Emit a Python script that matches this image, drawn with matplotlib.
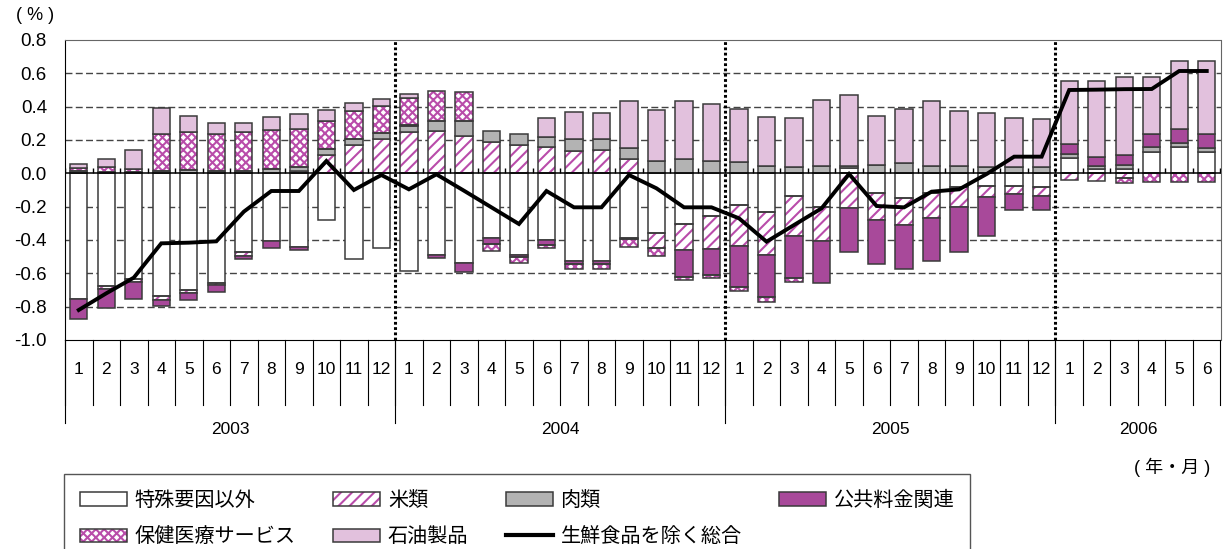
import numpy as np
import matplotlib
matplotlib.use('Agg')
import matplotlib.pyplot as plt
import matplotlib.transforms as mtransforms
from matplotlib.patches import Patch
from matplotlib.lines import Line2D

plt.rcParams['font.family'] = ['Liberation Sans', 'Noto Sans CJK JP', 'DejaVu Sans']
plt.rcParams['hatch.linewidth'] = 1.5
plt.rcParams['lines.scale_dashes'] = False

# ---------------- data ----------------
years = ['2003', '2004', '2005', '2006']
months_per_year = [12, 12, 12, 6]
month_labels = [str(m) for n in months_per_year for m in range(1, n + 1)]

toku = [-0.756, -0.676, -0.636, -0.736, -0.70, -0.66, -0.474, -0.404, -0.444, -0.28, -0.515, -0.446,
        -0.584, -0.492, -0.54, -0.39, -0.49, -0.40, -0.526, -0.526, -0.39, -0.36, -0.306, -0.254,
        -0.19, -0.234, -0.138, -0.20, 0.034, -0.12, -0.146, -0.12, -0.08, -0.074, -0.074, -0.084,
        0.09, 0.024, 0.028, 0.13, 0.16, 0.13]
kome = [0.0, -0.016, -0.016, -0.024, -0.02, -0.01, -0.02, 0.0, 0.016, 0.11, 0.17, 0.204,
        0.25, 0.256, 0.226, 0.188, 0.168, 0.16, 0.136, 0.14, 0.084, -0.09, -0.154, -0.20,
        -0.246, -0.256, -0.236, -0.204, -0.21, -0.16, -0.162, -0.146, -0.12, -0.066, -0.052, -0.05,
        -0.04, -0.045, -0.03, 0.0, 0.0, 0.0]
niku = [0.015, 0.01, 0.01, 0.016, 0.02, 0.014, 0.016, 0.024, 0.02, 0.036, 0.034, 0.036,
        0.035, 0.06, 0.09, 0.068, 0.068, 0.056, 0.068, 0.064, 0.066, 0.076, 0.084, 0.076,
        0.07, 0.044, 0.036, 0.044, 0.012, 0.052, 0.062, 0.044, 0.044, 0.04, 0.036, 0.036,
        0.026, 0.02, 0.02, 0.03, 0.02, 0.02]
kokyo = [-0.12, -0.118, -0.104, -0.036, -0.04, -0.042, -0.018, -0.046, -0.016, 0.0, 0.0, 0.0,
         0.005, -0.016, -0.054, -0.032, -0.015, -0.03, -0.02, -0.02, -0.005, 0.0, -0.16, -0.156,
         -0.248, -0.25, -0.256, -0.256, -0.26, -0.266, -0.268, -0.258, -0.27, -0.234, -0.094, -0.086,
         0.058, 0.056, 0.062, 0.076, 0.088, 0.088]
hoken = [0.015, 0.026, 0.014, 0.218, 0.228, 0.222, 0.23, 0.234, 0.232, 0.166, 0.172, 0.164,
         0.16, 0.18, 0.17, -0.044, -0.035, -0.02, -0.03, -0.03, -0.045, -0.044, -0.02, -0.02,
         -0.022, -0.03, -0.02, 0.0, 0.0, 0.0, 0.0, 0.0, 0.0, 0.0, 0.0, 0.0,
         0.0, 0.0, -0.03, -0.054, -0.054, -0.054]
sekiyu = [0.025, 0.048, 0.116, 0.156, 0.098, 0.068, 0.058, 0.078, 0.09, 0.066, 0.044, 0.04,
          0.025, 0.0, 0.0, 0.0, 0.0, 0.116, 0.162, 0.16, 0.284, 0.302, 0.35, 0.34,
          0.314, 0.296, 0.296, 0.394, 0.422, 0.292, 0.322, 0.39, 0.33, 0.324, 0.294, 0.29,
          0.382, 0.456, 0.466, 0.34, 0.406, 0.436]
core = [-0.82, -0.72, -0.626, -0.42, -0.416, -0.408, -0.23, -0.106, -0.106, 0.074, -0.10, -0.01,
        -0.096, -0.006, -0.104, -0.204, -0.304, -0.106, -0.204, -0.204, -0.01, -0.09, -0.204, -0.204,
        -0.27, -0.41, -0.31, -0.21, -0.004, -0.196, -0.204, -0.11, -0.096, -0.004, 0.10, 0.10,
        0.50, 0.502, 0.505, 0.506, 0.614, 0.614]

names = ['特殊要因以外', '米類', '肉類', '公共料金関連', '保健医療サービス', '石油製品']
line_name = '生鮮食品を除く総合'

# ---------------- style ----------------
EDGE = '#3a3a3a'
MAG = '#b94caa'
PURPLE = '#a8499a'
PINK = '#e2c1dd'
GRAY = '#b3b3b3'
styles = {
    '特殊要因以外': dict(fc='white', hatch=None),
    '米類': dict(fc='white', hatch='///'),
    '肉類': dict(fc=GRAY, hatch=None),
    '公共料金関連': dict(fc=PURPLE, hatch=None),
    '保健医療サービス': dict(fc='white', hatch='xxxx'),
    '石油製品': dict(fc=PINK, hatch=None),
}
series_vals = [toku, kome, niku, kokyo, hoken, sekiyu]

W, H = 1225, 549
fig = plt.figure(figsize=(W / 100, H / 100), dpi=100)
ax = fig.add_axes([65 / W, 1 - 340 / H, (1220.5 - 65) / W, 300 / H])

n = len(month_labels)
x = np.arange(n)
bw = 0.63
pos_b = np.zeros(n)
neg_b = np.zeros(n)
for name, vals in zip(names, series_vals):
    v = np.asarray(vals, dtype=float)
    st = styles[name]
    bottom = np.where(v >= 0, pos_b, neg_b)
    m = v != 0
    if st['hatch']:
        ax.bar(x[m], v[m], bw, bottom=bottom[m], color='white', edgecolor=MAG,
               hatch=st['hatch'], linewidth=0, zorder=2)
        ax.bar(x[m], v[m], bw, bottom=bottom[m], facecolor='none', edgecolor=EDGE,
               linewidth=1.1, zorder=2.1)
    else:
        ax.bar(x[m], v[m], bw, bottom=bottom[m], color=st['fc'], edgecolor=EDGE,
               linewidth=1.1, zorder=2.1)
    pos_b += np.where(v > 0, v, 0)
    neg_b += np.where(v < 0, v, 0)

ax.plot(x, core, color='black', lw=2.8, zorder=5, solid_joinstyle='miter')

ax.set_xlim(-0.5, n - 0.5)
ax.set_ylim(-1.0, 0.8)
yt = np.round(np.arange(-1.0, 0.81, 0.2), 1)
ax.set_yticks(yt)
ax.set_yticklabels(['0.0' if abs(t) < 1e-9 else f'{t:.1f}' for t in yt])
ax.tick_params(axis='y', length=0, pad=13, labelsize=13.5)
ax.set_xticks([])

for t in yt:
    if -1.0 < t < 0.8 and abs(t) > 1e-9:
        ax.axhline(t, color='#444444', lw=1, ls=(0, (5, 2.4)), zorder=1)
ax.axhline(0, color='black', lw=1.1, zorder=3)
# small category ticks on the zero line
ax.vlines(np.arange(n + 1) - 0.5, 0, 0.03, color='black', lw=1, zorder=3)

# year dividers
bounds = np.cumsum(months_per_year)[:-1] - 0.5
for b in bounds:
    ax.axvline(b, color='black', lw=2.2, ls=(0, (2, 1.8)), zorder=4)

for s in ['top', 'right']:
    ax.spines[s].set_color('#666666')
for s in ['left', 'bottom']:
    ax.spines[s].set_color('black')

# category table below
trans = mtransforms.blended_transform_factory(ax.transData, ax.transAxes)
for i in range(n + 1):
    ax.plot([i - 0.5, i - 0.5], [0, -65 / 300], transform=trans, color='black', lw=0.8, clip_on=False)
start = -0.5
for yl, cnt in zip(years, months_per_year):
    if start < n - 1:
        ax.plot([start, start], [0, -83 / 300], transform=trans, color='black', lw=0.8, clip_on=False)
    ax.text(start + cnt / 2, -90 / 300, yl, transform=trans, ha='center', va='center', fontsize=12.5)
    start += cnt
for i, lab in enumerate(month_labels):
    ax.text(i, -30 / 300, lab, transform=trans, ha='center', va='center', fontsize=12.5)

fig.text(35 / W, 1 - 16 / H, '( % )', ha='center', va='center', fontsize=13)
fig.text(1172 / W, 1 - 467 / H, '( 年・月 )', ha='center', va='center', fontsize=13)

# legend
def handle_for(name):
    st = styles[name]
    if st['hatch']:
        return (Patch(facecolor='white', edgecolor=MAG, hatch=st['hatch'], linewidth=0),
                Patch(facecolor='none', edgecolor=EDGE, linewidth=1.1))
    return Patch(facecolor=st['fc'], edgecolor=EDGE, linewidth=1.1)

order = ['特殊要因以外', '保健医療サービス', '米類', '石油製品', '肉類', line_name, '公共料金関連']
handles, labels = [], []
for nm in order:
    if nm == line_name:
        handles.append(Line2D([], [], color='black', lw=3))
    else:
        handles.append(handle_for(nm))
    labels.append(nm)

leg = fig.legend(handles, labels, ncol=4, loc='upper left',
                 bbox_to_anchor=(64 / W, 1 - 474 / H), bbox_transform=fig.transFigure,
                 frameon=True, fancybox=False, edgecolor='#555555', framealpha=1,
                 prop={'family': ['Noto Sans CJK JP'], 'size': 14.5},
                 handlelength=2.34, handleheight=0.62, handletextpad=0.38,
                 columnspacing=1.85, borderpad=0.8, labelspacing=0.75, borderaxespad=0)
leg.get_frame().set_linewidth(1)

fig.savefig('out.png', dpi=100)
